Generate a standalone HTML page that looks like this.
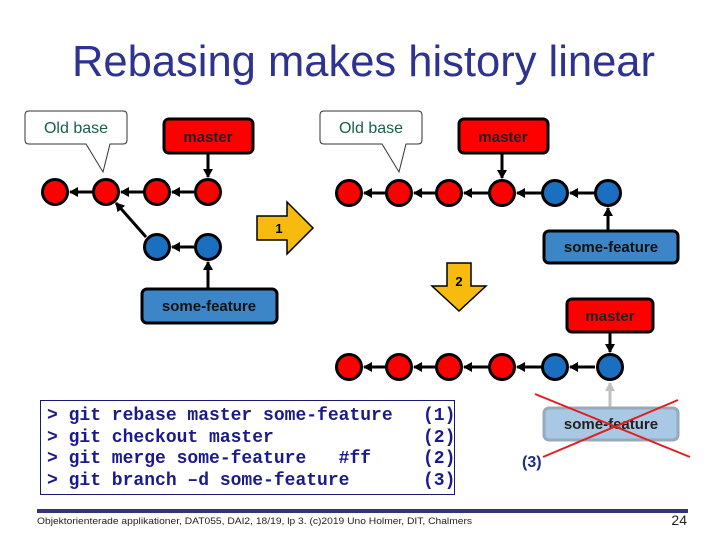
<!DOCTYPE html>
<html><head><meta charset="utf-8"><style>
html,body{margin:0;padding:0;background:#fff;}
svg{display:block;}
</style></head><body>
<svg width="720" height="540" viewBox="0 0 720 540" xmlns="http://www.w3.org/2000/svg" font-family="Liberation Sans, sans-serif">
<defs>
<marker id="ah" markerWidth="10" markerHeight="10" refX="8" refY="5" orient="auto" markerUnits="userSpaceOnUse"><path d="M0,0 L9,5 L0,10 z" fill="#000"/></marker>
<marker id="ahg" markerWidth="10" markerHeight="10" refX="8" refY="5" orient="auto" markerUnits="userSpaceOnUse"><path d="M0,0 L9,5 L0,10 z" fill="#c0c0c0"/></marker>
</defs>
<text x="72" y="76" font-size="44" fill="#2e3390" textLength="583" lengthAdjust="spacingAndGlyphs">Rebasing makes history linear</text>

<!-- LEFT diagram -->
<path d="M29,111 H123 Q127,111 127,115 V140 Q127,144 123,144 H110 L103,172 L86,144 H29 Q25,144 25,140 V115 Q25,111 29,111 Z" fill="#fff" stroke="#333" stroke-width="1"/>
<text x="76" y="133" font-size="16" fill="#1a5e4a" text-anchor="middle">Old base</text>
<rect x="164" y="119" width="89" height="34" rx="5" fill="#f00" stroke="#000" stroke-width="3"/>
<text x="208" y="142" font-size="15" font-weight="bold" fill="#222" text-anchor="middle">master</text>
<line x1="208" y1="153" x2="208" y2="177" stroke="#000" stroke-width="3" marker-end="url(#ah)"/>
<g stroke="#000" stroke-width="3">
<line x1="194" y1="192" x2="172" y2="192" marker-end="url(#ah)"/>
<line x1="144" y1="192" x2="121" y2="192" marker-end="url(#ah)"/>
<line x1="93" y1="192" x2="70" y2="192" marker-end="url(#ah)"/>
<line x1="146" y1="237" x2="116" y2="203" marker-end="url(#ah)"/>
<line x1="194" y1="247" x2="172" y2="247" marker-end="url(#ah)"/>
<line x1="208" y1="288" x2="208" y2="262" marker-end="url(#ah)"/>
</g>
<g stroke="#000" stroke-width="3" fill="#f00">
<circle cx="55" cy="192" r="12.5"/><circle cx="106" cy="192" r="12.5"/><circle cx="157" cy="192" r="12.5"/><circle cx="208" cy="192" r="12.5"/>
</g>
<g stroke="#000" stroke-width="3" fill="#1a6fc0">
<circle cx="157" cy="247" r="12.5"/><circle cx="208" cy="247" r="12.5"/>
</g>
<rect x="142" y="289" width="135" height="34" rx="5" fill="#3c86c8" stroke="#000" stroke-width="3"/>
<text x="209" y="311" font-size="15" font-weight="bold" fill="#111" text-anchor="middle">some-feature</text>

<!-- arrow 1 -->
<path d="M257,216 H287 V202 L313,228 L287,254 V240 H257 Z" fill="#f7bb10" stroke="#000" stroke-width="1.5"/>
<text x="279" y="233" font-size="13" font-weight="bold" fill="#000" text-anchor="middle">1</text>

<!-- RIGHT top diagram -->
<path d="M324,111 H418 Q422,111 422,115 V140 Q422,144 418,144 H406 L399,172 L382,144 H324 Q320,144 320,140 V115 Q320,111 324,111 Z" fill="#fff" stroke="#333" stroke-width="1"/>
<text x="371" y="133" font-size="16" fill="#1a5e4a" text-anchor="middle">Old base</text>
<rect x="459" y="119" width="89" height="34" rx="5" fill="#f00" stroke="#000" stroke-width="3"/>
<text x="503" y="142" font-size="15" font-weight="bold" fill="#222" text-anchor="middle">master</text>
<line x1="502" y1="153" x2="502" y2="178" stroke="#000" stroke-width="3" marker-end="url(#ah)"/>
<g stroke="#000" stroke-width="3">
<line x1="595" y1="193" x2="570" y2="193" marker-end="url(#ah)"/>
<line x1="542" y1="193" x2="517" y2="193" marker-end="url(#ah)"/>
<line x1="489" y1="193" x2="464" y2="193" marker-end="url(#ah)"/>
<line x1="436" y1="193" x2="414" y2="193" marker-end="url(#ah)"/>
<line x1="386" y1="193" x2="364" y2="193" marker-end="url(#ah)"/>
<line x1="608" y1="230" x2="608" y2="208" marker-end="url(#ah)"/>
</g>
<g stroke="#000" stroke-width="3" fill="#f00">
<circle cx="349" cy="193" r="12.5"/><circle cx="399" cy="193" r="12.5"/><circle cx="449" cy="193" r="12.5"/><circle cx="502" cy="193" r="12.5"/>
</g>
<g stroke="#000" stroke-width="3" fill="#1a6fc0">
<circle cx="555" cy="193" r="12.5"/><circle cx="608" cy="193" r="12.5"/>
</g>
<rect x="544" y="231" width="134" height="32" rx="5" fill="#3c86c8" stroke="#000" stroke-width="3"/>
<text x="611" y="252" font-size="15" font-weight="bold" fill="#111" text-anchor="middle">some-feature</text>

<!-- arrow 2 -->
<path d="M447,263 H471 V286 H486 L459,311 L432,286 H447 Z" fill="#f7bb10" stroke="#000" stroke-width="1.5"/>
<text x="459" y="286" font-size="13" font-weight="bold" fill="#000" text-anchor="middle">2</text>

<!-- bottom diagram -->
<rect x="567" y="299" width="86" height="33" rx="5" fill="#f00" stroke="#000" stroke-width="3"/>
<text x="610" y="321" font-size="15" font-weight="bold" fill="#222" text-anchor="middle">master</text>
<line x1="610" y1="332" x2="610" y2="352" stroke="#000" stroke-width="3" marker-end="url(#ah)"/>
<g stroke="#000" stroke-width="3">
<line x1="595" y1="367" x2="570" y2="367" marker-end="url(#ah)"/>
<line x1="542" y1="367" x2="517" y2="367" marker-end="url(#ah)"/>
<line x1="489" y1="367" x2="464" y2="367" marker-end="url(#ah)"/>
<line x1="436" y1="367" x2="414" y2="367" marker-end="url(#ah)"/>
<line x1="386" y1="367" x2="364" y2="367" marker-end="url(#ah)"/>
</g>
<line x1="610" y1="407" x2="610" y2="383" stroke="#c0c0c0" stroke-width="3" marker-end="url(#ahg)"/>
<g stroke="#000" stroke-width="3" fill="#f00">
<circle cx="349" cy="367" r="12.5"/><circle cx="399" cy="367" r="12.5"/><circle cx="449" cy="367" r="12.5"/><circle cx="502" cy="367" r="12.5"/>
</g>
<g stroke="#000" stroke-width="3" fill="#1a6fc0">
<circle cx="555" cy="367" r="12.5"/><circle cx="610" cy="367" r="12.5"/>
</g>
<rect x="544" y="408" width="134" height="32" rx="5" fill="#a9c8e4" stroke="#97aabb" stroke-width="3"/>
<text x="611" y="429" font-size="15" font-weight="bold" fill="#222" text-anchor="middle">some-feature</text>
<line x1="535" y1="394" x2="690" y2="457" stroke="#e02020" stroke-width="2"/>
<line x1="543" y1="457" x2="678" y2="400" stroke="#e02020" stroke-width="2"/>
<text x="522" y="467" font-size="16" font-weight="bold" fill="#1a2a90">(3)</text>

<!-- code box -->
<rect x="40.5" y="400.5" width="414" height="94" fill="#fff" stroke="#1a1a70" stroke-width="1"/>
<g font-family="Liberation Mono, monospace" font-size="18" font-weight="bold" fill="#1a1a8c">
<text x="47" y="420">&gt; git rebase master some-feature</text>
<text x="47" y="442">&gt; git checkout master</text>
<text x="47" y="463">&gt; git merge some-feature&#160;&#160;&#160;#ff</text>
<text x="47" y="485">&gt; git branch –d some-feature</text>
<text x="423" y="420">(1)</text>
<text x="423" y="442">(2)</text>
<text x="423" y="463">(2)</text>
<text x="423" y="485">(3)</text>
</g>

<!-- footer -->
<rect x="37" y="509" width="651" height="4" fill="#333380"/>
<text x="37" y="524" font-size="9.5" fill="#222" textLength="435" lengthAdjust="spacingAndGlyphs">Objektorienterade applikationer, DAT055, DAI2, 18/19, lp 3. (c)2019 Uno Holmer, DIT, Chalmers</text>
<text x="687" y="525" font-size="14" fill="#222" text-anchor="end">24</text>
</svg>
</body></html>
